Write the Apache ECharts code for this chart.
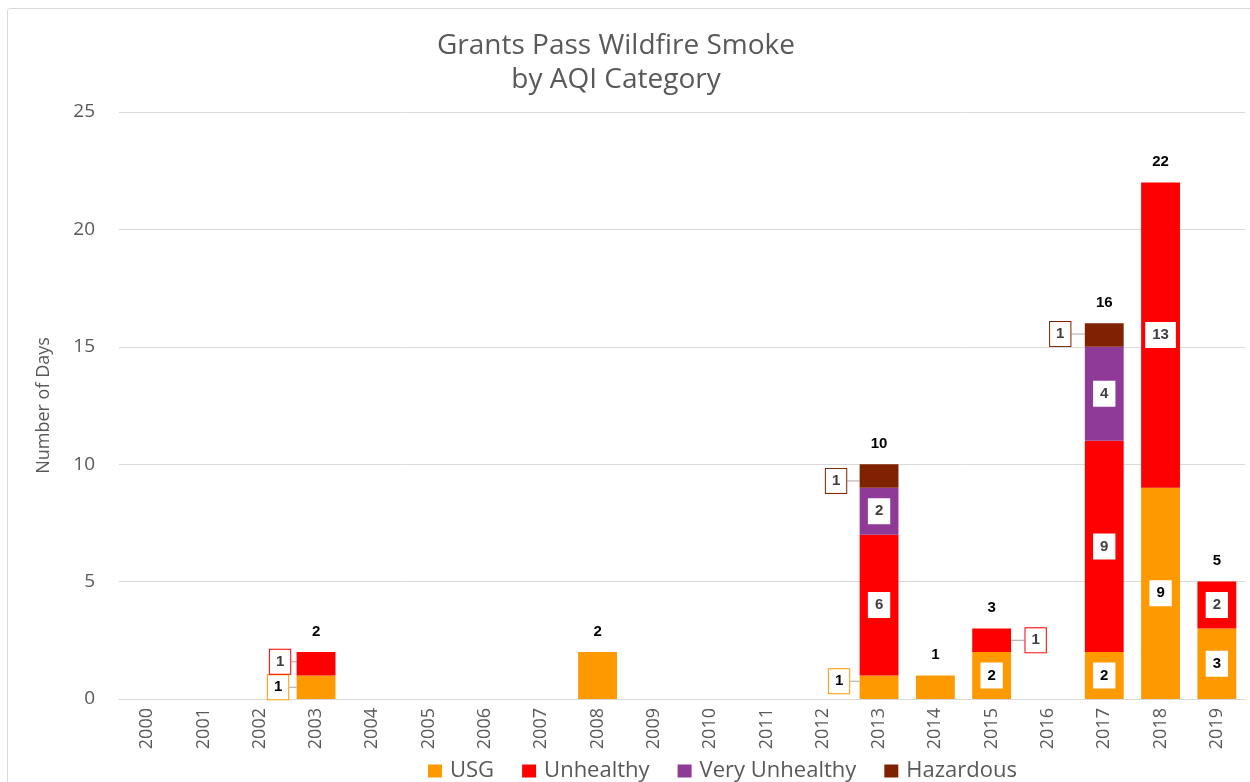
<!DOCTYPE html>
<html>
<head>
<meta charset="utf-8">
<script src="https://cdn.jsdelivr.net/npm/echarts@6/dist/echarts.min.js"></script>
<style>
html,body{margin:0;padding:0;background:#fff;}
#frame{position:absolute;left:7px;top:8px;width:1260px;height:790px;border:1px solid #d9d9d9;border-radius:3px;}
#chart{position:absolute;left:0;top:0;width:1250px;height:782px;}
</style>
</head>
<body>
<div id="frame"></div>
<div id="chart"></div>
<script>
const years = ['2000','2001','2002','2003','2004','2005','2006','2007','2008','2009','2010','2011','2012','2013','2014','2015','2016','2017','2018','2019'];
const usg           = [0,0,0,1,0,0,0,0,2,0,0,0,0,1,1,2,0,2,9,3];
const unhealthy     = [0,0,0,1,0,0,0,0,0,0,0,0,0,6,0,1,0,9,13,2];
const veryUnhealthy = [0,0,0,0,0,0,0,0,0,0,0,0,0,2,0,0,0,4,0,0];
const hazardous     = [0,0,0,0,0,0,0,0,0,0,0,0,0,1,0,0,0,1,0,0];
const seriesNames = ['USG','Unhealthy','Very Unhealthy','Hazardous'];
const yTicks = [0,5,10,15,20,25];

const colors = ['#FF9900','#FF0000','#8E3A96','#7F2200'];
const textColors = ['#000000','#404040','#404040','#404040'];
const values = [usg, unhealthy, veryUnhealthy, hazardous];
const totals = years.map((_, i) => values.reduce((s, arr) => s + arr[i], 0));

// labels pulled outside the bar (series index -> year -> [dx, dy])
const moved = {
  0: {'2003': [-38, 0], '2013': [-40, -6]},
  1: {'2003': [-36, -2], '2015': [44, 0]},
  3: {'2013': [-43, 5], '2017': [-44, -1]}
};

const series = values.map((arr, si) => ({
  name: seriesNames[si],
  type: 'bar',
  stack: 'days',
  barWidth: '69%',
  itemStyle: {color: colors[si]},
  labelLine: {show: true, lineStyle: {color: '#a6a6a6', width: 1}},
  labelLayout: function (p) {
    const m = moved[si] && moved[si][years[p.dataIndex]];
    return m ? {dx: m[0], dy: m[1]} : {};
  },
  data: arr.map((v, i) => {
    const isMoved = !!(moved[si] && moved[si][years[i]]);
    return {
      value: v,
      label: {
        show: v > 0 && totals[i] !== v,
        position: 'inside',
        formatter: String(v),
        fontFamily: 'Arial, Liberation Sans, sans-serif',
        fontWeight: 'bold',
        fontSize: 15,
        color: textColors[si],
        backgroundColor: '#ffffff',
        borderColor: isMoved ? colors[si] : '#ffffff',
        borderWidth: 1,
        padding: [5, 6, 4, 6]
      }
    };
  })
}));

series.push({
  name: 'Total',
  type: 'bar',
  stack: 'days',
  barWidth: '69%',
  itemStyle: {color: 'transparent'},
  data: totals.map(() => 0),
  label: {
    show: true,
    position: 'top',
    distance: 13,
    fontFamily: 'Arial, Liberation Sans, sans-serif',
    fontWeight: 'bold',
    fontSize: 15,
    color: '#000',
    formatter: p => totals[p.dataIndex] > 0 ? String(totals[p.dataIndex]) : ''
  },
  tooltip: {show: false}
});

const chart = echarts.init(document.getElementById('chart'));
chart.setOption({
  animation: false,
  backgroundColor: 'transparent',
  title: {
    text: 'Grants Pass Wildfire Smoke\nby AQI Category',
    left: 611,
    textAlign: 'center',
    top: 24,
    textStyle: {fontFamily: 'Open Sans', fontWeight: 'normal', fontSize: 28, color: '#595959', lineHeight: 34}
  },
  legend: {
    data: seriesNames,
    left: 423,
    top: 755,
    icon: 'rect',
    itemWidth: 14,
    itemHeight: 13,
    itemGap: 28,
    textStyle: {fontFamily: 'Open Sans', fontSize: 22, color: '#595959', padding: [0, 0, 0, 3]}
  },
  grid: {left: 119, right: 5, top: 112, bottom: 83, containLabel: false},
  xAxis: {
    type: 'category',
    data: years,
    axisLine: {lineStyle: {color: '#d9d9d9'}},
    axisTick: {show: false},
    axisLabel: {rotate: 90, fontFamily: 'Open Sans', fontSize: 18, color: '#595959', margin: 9}
  },
  yAxis: {
    type: 'value',
    min: yTicks[0],
    max: yTicks[yTicks.length - 1],
    interval: yTicks[1] - yTicks[0],
    name: 'Number of Days',
    nameLocation: 'middle',
    nameGap: 66,
    nameTextStyle: {fontFamily: 'Open Sans', fontSize: 18, color: '#595959'},
    axisLine: {show: false},
    axisTick: {show: false},
    axisLabel: {fontFamily: 'Open Sans', fontSize: 19, color: '#595959', margin: 24},
    splitLine: {lineStyle: {color: '#d9d9d9'}}
  },
  series: series
});
</script>
</body>
</html>
